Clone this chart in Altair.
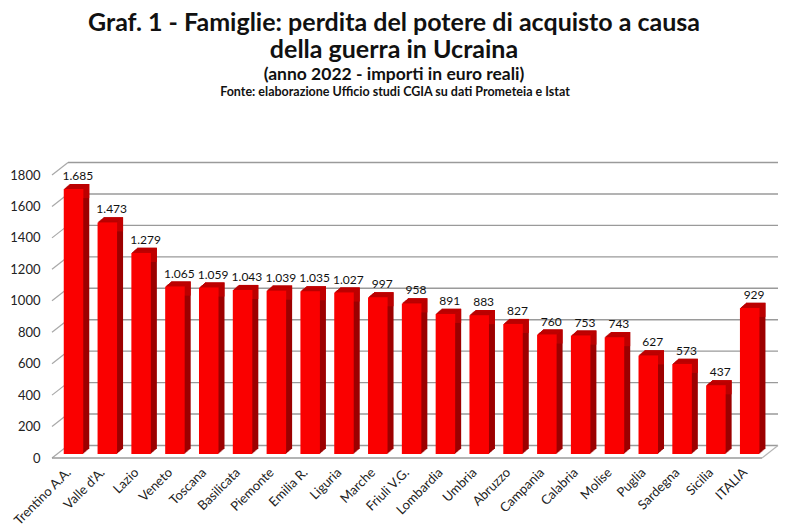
import altair as alt
import pandas as pd

regions = ["Trentino A.A.", "Valle d'A.", "Lazio", "Veneto", "Toscana", "Basilicata", "Piemonte",
           "Emilia R.", "Liguria", "Marche", "Friuli V.G.", "Lombardia", "Umbria", "Abruzzo",
           "Campania", "Calabria", "Molise", "Puglia", "Sardegna", "Sicilia", "ITALIA"]
values = [1685, 1473, 1279, 1065, 1059, 1043, 1039, 1035, 1027, 997, 958, 891, 883, 827,
          760, 753, 743, 627, 573, 437, 929]
labels = ["1.685", "1.473", "1.279", "1.065", "1.059", "1.043", "1.039", "1.035", "1.027", "997",
          "958", "891", "883", "827", "760", "753", "743", "627", "573", "437", "929"]
ticks = [0, 200, 400, 600, 800, 1000, 1200, 1400, 1600, 1800]

FONT = "Lato"
W, H = 710, 283
DOMAIN = [0, 1800]
DEPTH_X, DEPTH_Y = 16, 12.5
UNITS_PER_PX = 1800 / H

df = pd.DataFrame({"regione": regions, "valore": values, "etichetta": labels})
df["cima"] = df["valore"] - 5 * UNITS_PER_PX
grid_df = pd.DataFrame({"v": ticks})
grid_df["back"] = grid_df["v"] + DEPTH_Y * UNITS_PER_PX

x = alt.X("regione:N", sort=regions, scale=alt.Scale(paddingInner=0, paddingOuter=0),
          axis=alt.Axis(title=None, labelAngle=315, labelAlign="right", labelBaseline="middle",
                        labelFont=FONT, labelFontSize=13, labelColor="#222222", labelPadding=12,
                        ticks=False, domain=False))
y_scale = alt.Scale(domain=DOMAIN, nice=False)
y_axis = alt.Axis(title=None, values=ticks, format="d", labelFont=FONT, labelFontSize=13,
                  labelColor="#222222", labelPadding=12, ticks=False, domain=False, grid=False)


def Y(field):
    return alt.Y(field, scale=y_scale, axis=y_axis)


y = Y("valore:Q")

# back wall grid lines
walls = alt.Chart(grid_df).mark_rule(color="#9a9a9a", strokeWidth=1.4).encode(
    y=Y("back:Q"), x=alt.value(DEPTH_X), x2=alt.value(W + DEPTH_X))
# left diagonals
diag = alt.Chart(grid_df).mark_rule(color="#a8a8a8", strokeWidth=1.2).encode(
    x=alt.value(0), x2=alt.value(DEPTH_X), y=Y("v:Q"), y2="back:Q")
# floor
floor_df = grid_df[grid_df.v == 0]
floor = alt.Chart(floor_df).mark_rule(color="#9a9a9a", strokeWidth=1.6).encode(
    y=Y("v:Q"), x=alt.value(0), x2=alt.value(W))
floor_r = alt.Chart(floor_df).mark_rule(color="#b5b5b5", strokeWidth=1.2).encode(
    x=alt.value(W), x2=alt.value(W + DEPTH_X), y=Y("v:Q"), y2="back:Q")

BAR = 19.5
BASE_X, BASE_Y = 4.6, -4
layers = [walls, diag, floor, floor_r]
for i in range(6, 0, -1):
    ox, oy = BASE_X + i, BASE_Y - i * 0.85
    layers.append(alt.Chart(df).mark_bar(width=BAR, color="#9c0000", xOffset=ox, yOffset=oy).encode(x=x, y=y))
    layers.append(alt.Chart(df).mark_bar(width=BAR, color="#c40000", xOffset=ox, yOffset=oy).encode(
        x=x, y=y, y2="cima:Q"))
front = alt.Chart(df).mark_bar(width=BAR, color="#fa0000", xOffset=BASE_X, yOffset=BASE_Y).encode(x=x, y=y)
text = alt.Chart(df).mark_text(font=FONT, fontSize=12, color="#111111", dx=9, dy=-17).encode(
    x=x, y=y, text="etichetta:N")
fonte = alt.Chart(df.head(1)).mark_text(font=FONT, fontSize=12.5, fontWeight="bold", color="#111111").encode(
    x=alt.value(W / 2 - 12), y=alt.value(-83),
    text=alt.value("Fonte: elaborazione Ufficio studi CGIA su dati Prometeia e Istat"))
layers += [front, text, fonte]

chart = alt.layer(*layers).properties(
    width=W, height=H,
    autosize="none",
    background="white",
    padding={"left": 44, "top": 167, "right": 24, "bottom": 68},
    title=alt.TitleParams(
        text=["Graf. 1 - Famiglie: perdita del potere di acquisto a causa", "della guerra in Ucraina"],
        subtitle="(anno 2022 - importi in euro reali)",
        font=FONT, fontSize=25, fontWeight="bold", color="#111111", lineHeight=27,
        subtitleFont=FONT, subtitleFontSize=17.5, subtitleFontWeight="bold", subtitleColor="#111111",
        subtitlePadding=3, anchor="middle", offset=3, dx=-13),
).configure_view(stroke=None)

chart.save("out.html", embed_options={"renderer": "svg", "actions": False})
